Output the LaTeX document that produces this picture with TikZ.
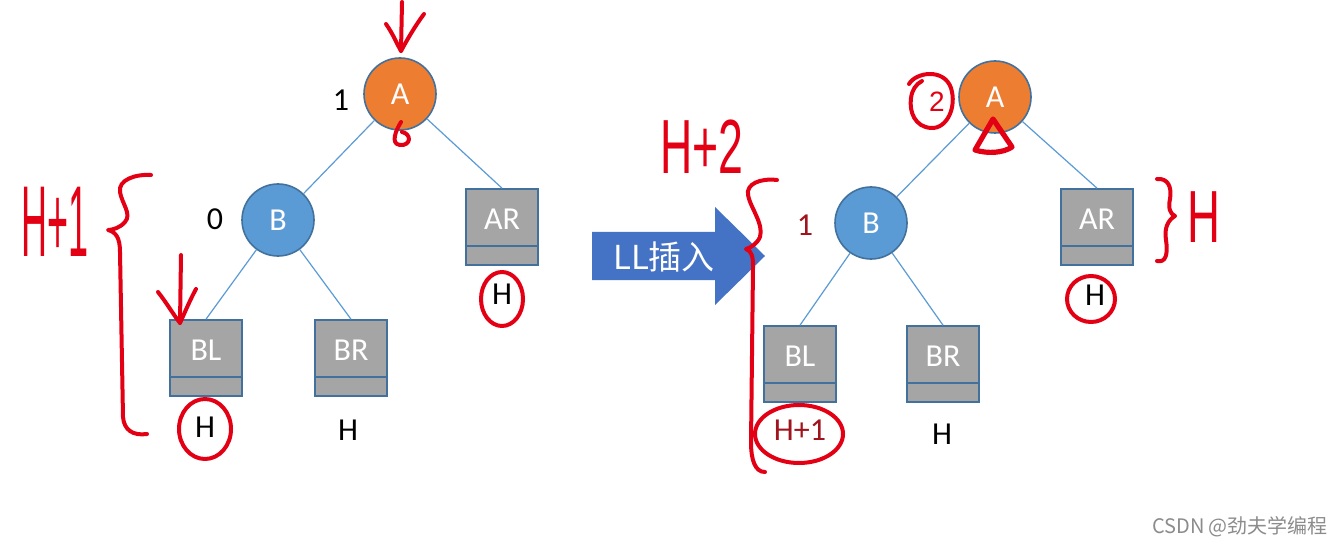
\documentclass[tikz,border=0pt]{standalone}
\usepackage{graphicx}
\usepackage{fontspec}
\setmainfont{Carlito}
\newfontfamily\cjk{Noto Sans CJK SC}
\newfontfamily\handfont{Liberation Sans}
\usepackage{tikz}
\usetikzlibrary{positioning}

\definecolor{rootorange}{HTML}{ED7D31}
\definecolor{kidblue}{HTML}{5B9BD5}
\definecolor{rimblue}{HTML}{41719C}
\definecolor{boxgray}{HTML}{A5A5A5}
\definecolor{arrowblue}{HTML}{4472C4}
\definecolor{inkred}{RGB}{228,0,20}
\definecolor{darkred}{RGB}{160,20,30}

\begin{document}
\begin{tikzpicture}[
    x=0.5pt, y=-0.5pt,
    vert/.style={circle, draw=rimblue, line width=0.8pt,
                 minimum size=36pt, inner sep=0pt, text=white,
                 font=\fontsize{16}{19}\selectfont},
    sub/.style={rectangle, draw=rimblue, line width=0.8pt, fill=boxgray,
                minimum width=36pt, minimum height=38pt, inner sep=0pt,
                text=white, text height=10.3pt, text depth=8pt,
                font=\fontsize{16}{19}\selectfont,
                path picture={\draw[rimblue, line width=0.8pt]
                  ([yshift=9.5pt]path picture bounding box.south west) --
                  ([yshift=9.5pt]path picture bounding box.south east);}},
    lbl/.style={font=\fontsize{16}{19}\selectfont},
    conn/.style={draw=kidblue, line width=0.6pt},
    ink/.style={draw=inkred, line width=2pt, line cap=round, line join=round},
    handtxt/.style={text=inkred, inner sep=0pt,
                    font=\handfont\fontsize{24}{28}\selectfont}
]
\path[fill=white] (0,0) rectangle (1336,543);

% left tree
\node[vert, fill=rootorange] (la) at (400,92) {A};
\node[vert, fill=kidblue] (lb) at (278,218) {B};
\node[sub] (lar) at (502,225) {AR};
\node[sub] (lbl) at (206,356) {BL};
\node[sub] (lbr) at (351,356) {BR};
\node[lbl] (lfa) at (341,98) {1};
\node[lbl] (lfb) at (215,217) {0};
\node[lbl] (lhar) at (502,292) {H};
\node[lbl] (lhbl) at (205,425) {H};
\node[lbl] (lhbr) at (348,428) {H};

% right tree
\node[vert, fill=rootorange] (ra) at (995,95) {A};
\node[vert, fill=kidblue] (rb) at (871,221) {B};
\node[sub] (rar) at (1097,225) {AR};
\node[sub] (rbl) at (800,362) {BL};
\node[sub] (rbr) at (943,362) {BR};
\node[lbl, text=darkred] (rfb) at (805,223) {1};
\node[lbl] (rhar) at (1095,293) {H};
\node[lbl, text=darkred] (rhbl) at (800,428) {H+1};
\node[lbl] (rhbr) at (942,432) {H};

\foreach \u/\v in {la/lb, ra/rb}
    \draw[conn] (\u) -- (\v);
\foreach \u/\v in {la/lar, lb/lbl, lb/lbr, ra/rar, rb/rbl, rb/rbr}
    \draw[conn] (\u) -- (\v.north);

% insertion arrow
\fill[arrowblue] (592,230) -- (715,230) -- (715,205) -- (765,254)
    -- (715,303) -- (715,278) -- (592,278) -- cycle;
\node[font=\cjk\fontsize{16.5}{20}\selectfont, text=white] (ins) at (664,255) {LL插入};

% red pen, left
\draw[ink] (402,0) -- (401,49);
\draw[ink] (386,22) .. controls (393,32) and (397,42) .. (401,49)
    .. controls (407,38) and (415,24) .. (424,12);
\draw[ink] (401,120) .. controls (396,128) and (390,142) .. (400,143)
    .. controls (411,144) and (412,132) .. (402,130);
\draw[ink] (151,173) .. controls (135,172) and (118,178) .. (120,190)
    .. controls (122,202) and (132,212) .. (125,220)
    .. controls (120,226) and (112,228) .. (108,228)
    .. controls (116,230) and (120,236) .. (120,250) -- (123,415)
    .. controls (124,428) and (133,434) .. (147,432);
\draw[ink] (181,253) -- (180,321);
\draw[ink] (158,290) .. controls (166,300) and (173,312) .. (180,321)
    .. controls (185,310) and (190,298) .. (196,287);
\draw[ink] (205,427) ellipse [x radius=13pt, y radius=15pt];
\draw[ink] (502,297) ellipse [x radius=10.5pt, y radius=13.5pt];
\node[handtxt] (hleft) at (55,220) {\scalebox{0.75}[2.1]{H+1}};

% red pen, right
\node[handtxt] (hmid) at (702,145) {\scalebox{0.93}[1.6]{H+2}};
\draw[ink] (777,178) .. controls (760,176) and (746,182) .. (748,193)
    .. controls (750,205) and (764,222) .. (760,235)
    .. controls (757,242) and (750,246) .. (746,247)
    .. controls (752,249) and (753,255) .. (753,265) -- (751,440)
    .. controls (751,458) and (755,470) .. (765,470);
\draw[ink] (799,432) ellipse [x radius=22pt, y radius=14.5pt];
\node[handtxt, font=\handfont\fontsize{14}{16}\selectfont] (two) at (937,100) {2};
\draw[ink] (909,82) .. controls (916,70) and (944,66) .. (951,86)
    .. controls (957,105) and (947,127) .. (931,126)
    .. controls (915,125) and (909,110) .. (911,96)
    .. controls (912,88) and (916,82) .. (922,79);
\draw[ink, line width=2.6pt] (993,117) -- (975,148)
    .. controls (988,152) and (1003,151) .. (1012,145) -- cycle;
\draw[ink] (1157,177) .. controls (1168,176) and (1172,185) .. (1170,197)
    .. controls (1168,206) and (1170,212) .. (1175,214)
    .. controls (1168,218) and (1164,226) .. (1166,238)
    .. controls (1168,252) and (1166,261) .. (1157,259);
\node[handtxt] (hright) at (1204,215) {\scalebox{0.95}[1.54]{H}};
\draw[ink] (1091,297) ellipse [x radius=12pt, y radius=11.5pt];

\node[font=\cjk\fontsize{10}{12}\selectfont, text=black!45] (mark) at (1240,525) {CSDN @劲夫学编程};
\end{tikzpicture}
\end{document}
